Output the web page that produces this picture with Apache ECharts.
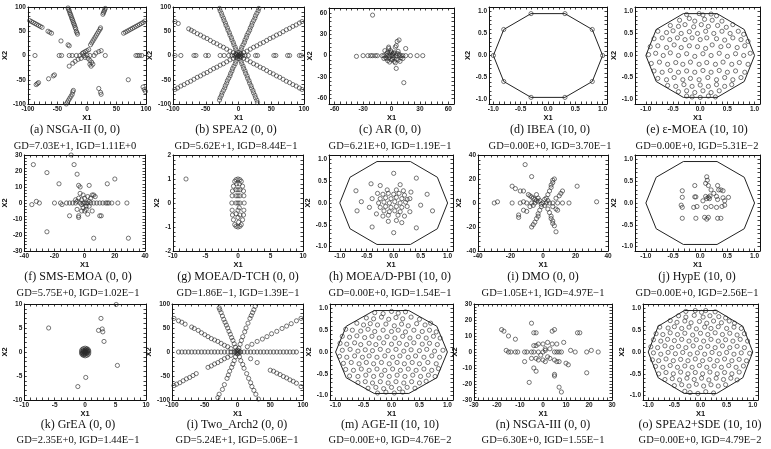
<!DOCTYPE html>
<html>
<head>
<meta charset="utf-8">
<script src="https://cdn.jsdelivr.net/npm/echarts@6/dist/echarts.min.js"></script>
<style>
  html, body { margin: 0; background: #fff; }
  #chart { width: 771px; height: 449px; }
</style>
</head>
<body>
<div id="chart"></div>
<script>
// ---- data ----
const ptsA = [[-97,72],[-94,70],[-91,68],[-88,66],[-85,64],[-82,62],[-79,60],[-76,58],[-66,50],[-63,48],[-60,46],[-44,30],[-32,22],[-30,20],
  [-32,98],[-31,95],[-30,92],[-29,88],[-28,85],[-27,82],[-26,78],[-25,75],[-24,72],[-23,68],[-22,65],[-21,62],[-20,58],[-19,55],[-18,50],[-17,47],[-16,44],
  [27,85],[28,88],[29,91],[30,94],[31,97],[6,22],[8,26],[10,30],[12,34],[14,38],[16,42],[18,46],[20,50],[22,54],[23,57],
  [62,46],[65,48],[68,50],[71,52],[74,54],[77,56],[80,58],[83,60],[86,62],[89,64],[92,66],[95,68],[98,71],
  [-88,0],[-47,0],[-43,0],[-30,0],[-25,0],[-18,0],[-12,0],[-5,0],[0,0],[5,0],[12,0],[31,0],[83,0],[86,0],[89,0],[93,0],
  [-8,4],[-6,6],[-3,8],[0,10],[3,12],[-10,-6],[-15,-8],[-20,-12],[-3,-4],[2,-6],[5,-10],[8,-14],[10,-18],[-30,-22],[-24,-16],[15,5],[20,8],[24,10],
  [-55,-40],[-57,-42],[-65,-48],[-82,-56],[-84,-58],[-86,-60],[-35,-100],[-33,-96],[-31,-92],[-29,-88],[-27,-84],[-25,-80],[-24,-75],[-23,-72],
  [20,-68],[23,-76],[24,-80],[70,-50],[95,-65],[97,-70],[99,-74],[5,-18],[7,-22]];
const ptsB = [[-97,-70],[-93,-67],[-88,-63],[-83,-60],[-78,-56],[-73,-53],[-68,-49],[-63,-45],[-58,-42],[-53,-38],[-48,-35],[-43,-31],[-38,-27],[-33,-24],[-28,-20],[-23,-17],[-18,-13],[-13,-9],[-8,-6],[-4,-3],
  [4,3],[8,6],[13,9],[18,13],[23,17],[28,20],[33,24],[38,27],[43,31],[48,35],[53,38],[58,42],[63,45],[68,49],[73,53],[78,56],[83,60],[88,63],[93,67],[97,70],
  [-97,70],[-92,66],[-76,55],[-72,52],[-68,49],[-63,45],[-58,42],[-53,38],[-48,35],[-43,31],[-38,27],[-33,24],[-28,20],[-23,17],[-18,13],[-13,9],[-8,6],[-4,3],
  [4,-3],[8,-6],[13,-9],[18,-13],[23,-17],[28,-20],[33,-24],[38,-27],[43,-31],[48,-35],[53,-38],[58,-42],[63,-45],[68,-49],[73,-53],[78,-56],[83,-60],[88,-63],[93,-67],[97,-70],
  [-29,97],[-28,92],[-26,87],[-25,82],[-23,77],[-22,72],[-20,67],[-19,62],[-17,57],[-16,52],[-14,47],[-13,42],[-11,37],[-10,32],[-8,27],[-7,22],[-5,17],[-4,12],[-2,7],
  [2,-7],[4,-12],[5,-17],[7,-22],[8,-27],[10,-32],[11,-37],[13,-42],[14,-47],[16,-52],[17,-57],[19,-62],[20,-67],[22,-72],[23,-77],[25,-82],[26,-87],[28,-92],[29,-97],
  [31,97],[30,92],[28,87],[26,82],[25,77],[23,72],[21,67],[20,62],[18,57],[17,52],[15,47],[13,42],[12,37],[10,32],[9,27],[7,22],[5,17],[4,12],[2,7],
  [-2,-7],[-4,-12],[-5,-17],[-7,-22],[-9,-27],[-10,-32],[-12,-37],[-13,-42],[-15,-47],[-17,-52],[-18,-57],[-20,-62],[-21,-67],[-23,-72],[-25,-77],[-26,-82],[-28,-87],[-29,-92],
  [-97,0],[-88,0],[-68,0],[-65,0],[-50,0],[-46,0],[-28,0],[-22,0],[-15,0],[-10,0],[-6,0],[0,0],[6,0],[10,0],[15,0],[26,0],[29,0],[54,0],[57,0],[75,0],[78,0],[93,0],[96,0],
  [-3,2],[2,-2],[3,3],[-2,-3],[1,1],[-1,-1],[3,-1],[-3,1]];
const ptsC = [[-20,57],[-37,-1],[-30,0],[-25,0],[-22,0],[-20,0],[-17,0],[-15,0],[-10,0],[-8,0],[-5,0],[-3,0],[0,0],[2,0],[5,0],[8,0],[10,0],[12,0],[15,0],[20,0],[27,0],[33,0],
  [-7,7],[-5,-4],[-3,10],[-3,12],[0,5],[2,3],[4,12],[5,14],[6,20],[8,22],[15,10],[-6,-3],[-4,-7],[-2,-9],[0,-6],[1,-5],[3,-8],[4,-10],[5,-5],[7,-6],[9,-8],
  [5,-18],[13,-38],[-5,3],[-2,4],[1,2],[3,4],[6,3],[8,2],[-8,-4],[-3,-3],[2,-3],[10,-3],[12,-4],[-1,7],[-4,5],[7,6]];
const ptsD = [[1,0],[0.81,0.59],[0.31,0.95],[-0.31,0.95],[-0.81,0.59],[-1,0],[-0.81,-0.59],[-0.31,-0.95],[0.31,-0.95],[0.81,-0.59]];
const ptsE = [[-0.25,0.93],[-0.02,0.95],[0.05,0.92],[0.2,0.94],[0.3,0.9],
  [-0.38,0.8],[-0.2,0.84],[-0.1,0.78],[0.08,0.82],[0.22,0.8],[0.4,0.78],
  [-0.55,0.68],[-0.4,0.66],[-0.28,0.7],[-0.12,0.65],[0.02,0.7],[0.15,0.66],[0.32,0.68],[0.48,0.64],[0.6,0.7],
  [-0.78,0.55],[-0.62,0.52],[-0.5,0.56],[-0.35,0.5],[-0.2,0.54],[-0.05,0.5],[0.1,0.55],[0.25,0.5],[0.4,0.55],[0.55,0.5],[0.7,0.55],[0.8,0.48],
  [-0.85,0.38],[-0.7,0.4],[-0.56,0.36],[-0.42,0.4],[-0.28,0.36],[-0.15,0.4],[0.0,0.36],[0.12,0.4],[0.3,0.38],[0.45,0.35],[0.6,0.4],[0.75,0.36],[0.88,0.32],
  [-0.92,0.2],[-0.78,0.22],[-0.62,0.18],[-0.48,0.24],[-0.35,0.18],[-0.2,0.22],[-0.05,0.2],[0.1,0.16],[0.22,0.24],[0.38,0.2],[0.52,0.22],[0.68,0.18],[0.82,0.22],
  [-0.95,0.02],[-0.82,0.05],[-0.68,0.0],[-0.55,0.06],[-0.4,0.0],[-0.25,0.04],[-0.1,-0.02],[0.05,0.04],[0.2,0.0],[0.35,0.05],[0.5,-0.02],[0.65,0.04],[0.8,0.0],[0.92,0.05],
  [-0.9,-0.18],[-0.75,-0.15],[-0.6,-0.2],[-0.45,-0.16],[-0.32,-0.2],[-0.18,-0.15],[-0.02,-0.2],[0.12,-0.16],[0.28,-0.2],[0.42,-0.15],[0.58,-0.2],[0.72,-0.16],[0.88,-0.2],
  [-0.85,-0.35],[-0.7,-0.38],[-0.55,-0.34],[-0.4,-0.38],[-0.25,-0.35],[-0.1,-0.38],[0.05,-0.34],[0.2,-0.38],[0.35,-0.34],[0.5,-0.38],[0.65,-0.35],[0.82,-0.38],
  [-0.78,-0.52],[-0.62,-0.55],[-0.48,-0.5],[-0.32,-0.55],[-0.18,-0.52],[-0.02,-0.55],[0.14,-0.5],[0.3,-0.55],[0.45,-0.5],[0.6,-0.55],[0.75,-0.5],
  [-0.6,-0.68],[-0.45,-0.7],[-0.3,-0.66],[-0.15,-0.7],[0.0,-0.67],[0.15,-0.7],[0.3,-0.66],[0.45,-0.7],[0.58,-0.66],
  [-0.4,-0.82],[-0.25,-0.8],[-0.1,-0.84],[0.05,-0.8],[0.2,-0.84],[0.35,-0.8],
  [-0.25,-0.92],[-0.15,-0.94],[0.0,-0.95],[0.15,-0.92],[0.28,-0.94]];
const ptsF = [[-34,24],[-25,19],[-17,12],[-9,30],[-7,24],[-5,18],[-4,11],[-3,10],[3,11],[20,15],[15,12],[-35,-1],[-32,1],[-30,0],[-20,0],[-16,0],[-15,-1],[-12,0],[-10,0],[-8,0],[-6,0],[-5,1],[-3,0],[-1,0],[0,0],[1,0],[2,0],[4,0],[6,0],[8,0],[10,0],[12,0],[14,0],[15,0],[16,0],[18,0],[22,0],[28,0],
  [-3,6],[-1,5],[0,3],[2,4],[4,3],[-2,2],[5,5],[6,5],[7,4],[-4,3],[-1,-3],[1,-2],[3,-2],[-2,-5],[0,-5],[2,-7],[-10,-8],[-4,-8],[-4,-9],[5,-5],[10,-8],[11,-8],[-25,-18],[6,-22],[29,-22],[-5,-4],[1,-4],[-6,2],[3,1],[-2,-1]];
const ptsG = [[-8,1],[0,1],[-0.3,0.97],[0.3,0.97],[-0.5,0.9],[0.5,0.9],[-0.7,0.7],[0.7,0.7],[-0.85,0.5],[0.85,0.5],[-0.9,0.3],[0.9,0.3],[-0.95,0],[0.95,0],[-0.9,-0.3],[0.9,-0.3],[-0.85,-0.5],[0.85,-0.5],[-0.7,-0.7],[0.7,-0.7],[-0.5,-0.9],[0.5,-0.9],[-0.3,-0.97],[0.3,-0.97],[0,-1],
  [-0.3,0.55],[0,0.55],[0.3,0.55],[-0.3,0.3],[0,0.3],[0.3,0.3],[0,0],[0.3,0],[-0.3,0],[0.2,-0.2],[0,-0.3],[-0.3,-0.45],[0.3,-0.5],[0,-0.6],[-0.2,0.8],[0.2,0.8],[0.1,-0.8]];
const ptsH = [[0,0.68],[-0.42,0.44],[-0.25,0.4],[0.12,0.42],[0.42,0.57],[-0.7,0.28],[0.32,0.25],[0.62,0.2],[-0.6,0.03],[-0.4,0.1],[-0.68,-0.18],[-0.45,-0.1],[0.5,-0.05],[0.72,-0.18],[-0.32,-0.25],[-0.4,-0.55],[-0.1,-0.42],[0.05,-0.4],[0.2,-0.3],[0.3,-0.2],[0.42,-0.57],[0,-0.68],[-0.2,-0.3],[0.15,-0.45],
  [-0.2,0.2],[-0.1,0.22],[0.0,0.2],[0.1,0.22],[0.2,0.18],[-0.25,0.1],[-0.15,0.12],[-0.05,0.1],[0.05,0.13],[0.15,0.1],[0.25,0.08],[-0.28,0.0],[-0.18,0.02],[-0.08,0.0],[0.02,0.03],[0.12,0.0],[0.22,0.02],
  [-0.25,-0.1],[-0.15,-0.08],[-0.05,-0.1],[0.05,-0.08],[0.15,-0.1],[0.25,-0.08],[-0.18,-0.18],[-0.08,-0.2],[0.02,-0.18],[0.12,-0.2],[-0.12,0.3],[0.05,0.3],[0.18,0.28],[-0.3,0.22],[0.3,0.1],[-0.1,-0.28],[0.08,-0.28]];
const ptsI = [[-11,32],[-7,22],[-19,14],[-17,12],[-14,10],[-12,10],[-30,0],[-28,1],[-19,0],[-14,0],[-12,1],[-10,0],[-7,0],[-5,0],[-3,1],[0,0],[2,0],[4,0],[6,0],[9,0],[12,0],[16,0],[21,14],[33,1],[12,10],[11,8],[10,6],[8,4],
  [-15,-12],[-15,-10],[-12,-6],[-10,-7],[-8,-3],[-6,-2],[2,4],[3,7],[4,10],[5,13],[5,15],[6,17],[6,19],[7,20],[-9,7],[-8,6],[-7,5],[-6,4],[-5,3],[-4,2],
  [-1,-3],[-2,-6],[-3,-9],[-3,-11],[-4,-13],[-5,-16],[-6,-18],[-7,-20],[3,-5],[4,-8],[5,-11],[5,-13],[6,-15],[6,-17],[7,-19],[8,-24],[6,-3],[8,-5],[9,-6],[-2,2],[1,3],[3,2],[-1,-1],[1,-2],[-3,4],[-4,7]];
const ptsJ = [[-0.33,0.28],[-0.33,0.13],[-0.35,-0.05],[-0.33,-0.1],[-0.33,-0.35],[-0.1,0.4],[-0.1,0.14],[-0.08,0.14],[-0.12,-0.1],[-0.06,-0.08],[-0.08,-0.35],[0.1,0.45],[0.12,0.6],[0.13,0.52],[0.15,0.4],[0.1,0.15],[0.12,0.1],[0.15,0.13],[0.18,0.16],[0.17,0.1],[0.1,-0.1],[0.2,-0.08],[0.08,-0.33],[0.12,-0.37],[0.15,-0.33],
  [0.32,0.4],[0.34,0.3],[0.38,0.3],[0.42,0.28],[0.3,0.15],[0.32,0.08],[0.42,0.12],[0.52,0.13],[0.45,0.05],[0.3,-0.1],[0.4,-0.08],[0.45,-0.05],[0.32,-0.35],[0.38,-0.35],[0.2,0.3],[0.25,0.22],[0.05,0.05]];
const ptsK = [[-0.6,0.2],[-0.5,0.5],[-0.3,0.7],[0,0.8],[0.3,0.7],[0.5,0.5],[0.6,0.2],[0.6,-0.2],[0.5,-0.5],[0.3,-0.7],[0,-0.8],[-0.3,-0.7],[-0.5,-0.5],[-0.6,-0.2],[-0.3,0.3],[0,0.4],[0.3,0.3],[-0.3,-0.3],[0,-0.4],[0.3,-0.3],[0,0],[-0.4,0],[0.4,0],[-0.2,0.1],[0.2,-0.1],[0.1,0.2],[-0.1,-0.2],[0.45,0.25],[-0.45,-0.25],[0.2,0.55],[-0.2,-0.55],
  [-6,5],[2.6,7],[2.2,4.5],[2.8,4.8],[2.9,4.2],[3.1,2.2],[5.3,-2.8],[0.1,-5.3],[-1.2,-7.2],[5.1,9.9]];
const ptsL = [[-97,70],[-90,65],[-85,62],[-80,58],[-70,52],[-66,49],[-60,45],[-55,40],[-50,36],[-45,32],[-40,28],[-35,25],[-30,22],[-25,18],[-20,14],[-15,11],[-10,7],
  [20,-14],[30,-22],[50,-38],[55,-40],[60,-44],[65,-47],[70,-51],[75,-54],[80,-58],[85,-61],[90,-65],[97,-72],
  [15,11],[22,16],[30,22],[38,27],[45,32],[52,38],[60,43],[68,49],[75,54],[82,59],[90,65],[97,70],
  [-97,-70],[-93,-67],[-88,-64],[-83,-60],[-78,-56],[-73,-53],[-68,-49],[-63,-45],[-45,-32],[-40,-29],[-35,-25],[-30,-22],[-25,-18],[-20,-14],[-15,-11],[-10,-7],
  [-28,92],[-27,88],[-25,82],[-23,75],[-21,68],[-19,62],[-17,56],[-15,50],[-13,43],[-11,37],[-9,30],[-7,24],[-5,17],[-3,10],
  [27,95],[25,88],[23,82],[21,76],[19,70],[16,60],[13,50],[11,42],[8,32],[6,24],[4,16],[2,8],
  [-3,-10],[-5,-18],[-7,-25],[-9,-32],[-12,-40],[-14,-48],[-16,-55],[-20,-68],[-23,-78],[-28,-88],[-30,-95],
  [3,-10],[5,-18],[8,-26],[10,-34],[14,-45],[17,-55],[20,-64],[22,-72],[25,-80],[28,-88],[32,-98],
  [-90,0],[-85,0],[-80,0],[-75,0],[-70,0],[-65,0],[-60,0],[-55,0],[-50,0],[-45,0],[-40,0],[-35,0],[-30,0],[-25,0],[-20,0],[-15,0],[-10,0],[-5,0],[0,0],[5,0],[10,0],[15,0],[20,0],[25,0],[30,0],[35,0],[40,0],[45,0],[50,0],[55,0],[60,0],[65,0],[70,0],[75,0],[80,0],[85,0],[90,0],
  [-2,2],[2,2],[-2,-2],[2,-2],[0,4],[0,-4],[4,0],[-4,0]];
const ptsM = [[-0.3,0.9],[-0.15,0.88],[0.0,0.93],[0.12,0.89],[0.25,0.92],
  [-0.45,0.78],[-0.32,0.76],[-0.18,0.8],[-0.05,0.75],[0.08,0.79],[0.2,0.76],[0.35,0.8],[0.5,0.75],
  [-0.62,0.66],[-0.5,0.62],[-0.38,0.65],[-0.25,0.62],[-0.1,0.64],[0.05,0.6],[0.18,0.64],[0.3,0.6],[0.45,0.65],[0.6,0.62],[0.7,0.66],
  [-0.82,0.52],[-0.7,0.5],[-0.55,0.48],[-0.42,0.52],[-0.3,0.47],[-0.15,0.5],[0.0,0.47],[0.12,0.5],[0.25,0.46],[0.4,0.5],[0.55,0.47],[0.68,0.5],[0.8,0.46],
  [-0.88,0.36],[-0.75,0.34],[-0.62,0.37],[-0.48,0.33],[-0.35,0.36],[-0.22,0.32],[-0.08,0.35],[0.06,0.32],[0.2,0.36],[0.33,0.32],[0.48,0.35],[0.62,0.32],[0.75,0.36],[0.87,0.32],
  [-0.92,0.2],[-0.8,0.18],[-0.66,0.21],[-0.55,0.17],[-0.4,0.2],[-0.28,0.17],[-0.14,0.21],[0.0,0.18],[0.14,0.2],[0.27,0.17],[0.4,0.21],[0.55,0.18],[0.68,0.2],[0.82,0.17],
  [-0.88,0.04],[-0.74,0.06],[-0.6,0.02],[-0.47,0.05],[-0.34,0.03],[-0.2,0.06],[-0.06,0.03],[0.08,0.06],[0.22,0.02],[0.35,0.05],[0.5,0.03],[0.63,0.06],[0.77,0.02],[0.92,0.04],
  [-0.93,-0.1],[-0.8,-0.12],[-0.66,-0.09],[-0.52,-0.12],[-0.4,-0.09],[-0.26,-0.12],[-0.12,-0.09],[0.02,-0.12],[0.15,-0.09],[0.3,-0.12],[0.43,-0.09],[0.58,-0.12],[0.72,-0.09],[0.86,-0.12],
  [-0.86,-0.26],[-0.72,-0.24],[-0.58,-0.27],[-0.45,-0.24],[-0.32,-0.27],[-0.18,-0.24],[-0.04,-0.27],[0.1,-0.24],[0.23,-0.27],[0.37,-0.24],[0.5,-0.27],[0.65,-0.24],[0.8,-0.27],
  [-0.82,-0.4],[-0.68,-0.42],[-0.54,-0.39],[-0.4,-0.42],[-0.26,-0.39],[-0.12,-0.42],[0.02,-0.39],[0.16,-0.42],[0.3,-0.39],[0.44,-0.42],[0.58,-0.39],[0.72,-0.42],[0.84,-0.38],
  [-0.75,-0.55],[-0.6,-0.56],[-0.46,-0.53],[-0.32,-0.56],[-0.18,-0.53],[-0.04,-0.56],[0.1,-0.53],[0.24,-0.56],[0.38,-0.53],[0.52,-0.56],[0.66,-0.53],[0.78,-0.56],
  [-0.6,-0.7],[-0.47,-0.68],[-0.34,-0.71],[-0.2,-0.68],[-0.06,-0.71],[0.08,-0.68],[0.22,-0.71],[0.36,-0.68],[0.5,-0.71],[0.62,-0.67],
  [-0.42,-0.83],[-0.28,-0.81],[-0.14,-0.84],[0.0,-0.81],[0.14,-0.84],[0.28,-0.81],[0.42,-0.83],
  [-0.25,-0.94],[-0.1,-0.92],[0.05,-0.94],[0.2,-0.92]];
const ptsN = [[-18,14],[-17,13],[-15,10],[-12,8],[-5,18],[-4,12],[-3,12],[4,13],[5,14],[15,12],[16,12],[-16,1],[-15,0],[-14,0],[-12,0],[-11,0],[-8,0],[-7,0],[-5,0],[-4,0],[-2,0],[0,0],[1,1],[5,0],[6,0],[7,0],[8,0],[12,1],[14,0],[19,0],[21,1],[24,0],
  [-4,4],[-3,4],[-2,5],[0,5],[2,6],[4,5],[6,5],[9,6],[-5,-4],[-3,-4],[-2,-5],[0,-5],[1,-6],[3,-4],[5,-5],[6,-6],[10,-7],[11,-8],[-4,-10],[-3,-12],[-6,-19],[5,-14],[5,-15],[7,-22],[8,-25],[19,-13],[2,-3],[-1,-2],[1,2],[3,2],[-8,-6],[7,-6]];
const ptsO = [[-0.28,0.93],[-0.1,0.95],[0.02,0.91],[0.1,0.95],[0.28,0.92],
  [-0.42,0.83],[-0.28,0.8],[-0.12,0.84],[0.05,0.8],[0.18,0.83],[0.35,0.81],[0.48,0.78],
  [-0.58,0.72],[-0.45,0.68],[-0.3,0.71],[-0.18,0.67],[-0.02,0.7],[0.12,0.66],[0.25,0.71],[0.4,0.67],[0.55,0.71],[0.65,0.66],
  [-0.78,0.57],[-0.62,0.55],[-0.5,0.58],[-0.36,0.54],[-0.22,0.57],[-0.08,0.53],[0.08,0.57],[0.2,0.54],[0.34,0.58],[0.5,0.54],[0.64,0.57],[0.78,0.54],
  [-0.85,0.42],[-0.72,0.4],[-0.58,0.44],[-0.44,0.4],[-0.3,0.43],[-0.15,0.39],[0.0,0.43],[0.14,0.4],[0.28,0.44],[0.42,0.4],[0.56,0.43],[0.7,0.39],[0.84,0.42],
  [-0.9,0.28],[-0.76,0.25],[-0.63,0.29],[-0.5,0.26],[-0.36,0.29],[-0.22,0.25],[-0.08,0.28],[0.06,0.25],[0.2,0.29],[0.34,0.25],[0.48,0.28],[0.62,0.25],[0.76,0.29],[0.9,0.25],
  [-0.95,0.12],[-0.82,0.1],[-0.68,0.14],[-0.55,0.1],[-0.42,0.13],[-0.28,0.1],[-0.14,0.14],[0.0,0.1],[0.14,0.13],[0.28,0.1],[0.42,0.14],[0.56,0.1],[0.7,0.13],[0.84,0.1],
  [-0.9,-0.02],[-0.76,-0.05],[-0.62,-0.01],[-0.48,-0.04],[-0.34,-0.01],[-0.2,-0.05],[-0.06,-0.02],[0.08,-0.05],[0.22,-0.01],[0.36,-0.04],[0.5,-0.01],[0.64,-0.05],[0.78,-0.02],[0.94,-0.03],
  [-0.92,-0.18],[-0.8,-0.2],[-0.66,-0.16],[-0.52,-0.2],[-0.38,-0.17],[-0.24,-0.2],[-0.1,-0.16],[0.04,-0.2],[0.18,-0.17],[0.32,-0.2],[0.46,-0.16],[0.6,-0.2],[0.74,-0.17],[0.88,-0.2],
  [-0.86,-0.33],[-0.72,-0.35],[-0.58,-0.31],[-0.44,-0.35],[-0.3,-0.32],[-0.16,-0.35],[-0.02,-0.31],[0.12,-0.35],[0.26,-0.32],[0.4,-0.35],[0.54,-0.31],[0.68,-0.35],[0.82,-0.32],
  [-0.8,-0.5],[-0.66,-0.47],[-0.52,-0.5],[-0.38,-0.46],[-0.24,-0.5],[-0.1,-0.47],[0.04,-0.5],[0.18,-0.46],[0.32,-0.5],[0.46,-0.47],[0.6,-0.5],[0.74,-0.46],
  [-0.68,-0.63],[-0.54,-0.61],[-0.4,-0.64],[-0.26,-0.6],[-0.12,-0.63],[0.02,-0.6],[0.16,-0.64],[0.3,-0.6],[0.44,-0.63],[0.58,-0.6],[0.7,-0.64],
  [-0.5,-0.77],[-0.36,-0.75],[-0.22,-0.78],[-0.08,-0.74],[0.06,-0.78],[0.2,-0.75],[0.34,-0.78],[0.48,-0.75],
  [-0.3,-0.9],[-0.2,-0.93],[-0.05,-0.95],[0.1,-0.91],[0.25,-0.94]];

// true Pareto region outline (regular decagon)
const decagon = [[1,0],[0.81,0.59],[0.31,0.95],[-0.31,0.95],[-0.81,0.59],[-1,0],[-0.81,-0.59],[-0.31,-0.95],[0.31,-0.95],[0.81,-0.59],[1,0]];

const points = [ptsA, ptsB, ptsC, ptsD, ptsE, ptsF, ptsG, ptsH, ptsI, ptsJ, ptsK, ptsL, ptsM, ptsN, ptsO];
const withDecagon = [false, false, false, true, true, false, false, true, false, true, false, false, true, false, true];

const captions = ['(a) NSGA-II (0, 0)', '(b) SPEA2 (0, 0)', '(c) AR (0, 0)', '(d) IBEA (10, 0)', '(e) \u03b5-MOEA (10, 10)',
  '(f) SMS-EMOA (0, 0)', '(g) MOEA/D-TCH (0, 0)', '(h) MOEA/D-PBI (10, 0)', '(i) DMO (0, 0)', '(j) HypE (10, 0)',
  '(k) GrEA (0, 0)', '(i) Two_Arch2 (0, 0)', '(m) AGE-II (10, 10)', '(n) NSGA-III (0, 0)', '(o) SPEA2+SDE (10, 10)'];
const scores = ['GD=7.03E+1, IGD=1.11E+0', 'GD=5.62E+1, IGD=8.44E\u22121', 'GD=6.21E+0, IGD=1.19E\u22121', 'GD=0.00E+0, IGD=3.70E\u22121', 'GD=0.00E+0, IGD=5.31E\u22122',
  'GD=5.75E+0, IGD=1.02E\u22121', 'GD=1.86E\u22121, IGD=1.39E\u22121', 'GD=0.00E+0, IGD=1.54E\u22121', 'GD=1.05E+1, IGD=4.97E\u22121', 'GD=0.00E+0, IGD=2.56E\u22121',
  'GD=2.35E+0, IGD=1.44E\u22121', 'GD=5.24E+1, IGD=5.06E\u22121', 'GD=0.00E+0, IGD=4.76E\u22122', 'GD=6.30E+0, IGD=1.55E\u22121', 'GD=0.00E+0, IGD=4.79E\u22122'];

const xRange = [[-100,100],[-100,100],[-66,66],[-1.08,1.08],[-1.2,1.1],
  [-40,40],[-10,10],[-1.2,1.1],[-40,40],[-1.2,1.1],
  [-10,10],[-100,100],[-1.1,1.1],[-30,30],[-1.1,1.1]];
const yRange = [[-100,100],[-100,100],[-68,67],[-1.1,1.1],[-1.1,1.1],
  [-30,30],[-2,2],[-1.1,1.1],[-40,40],[-1.1,1.1],
  [-10,10],[-100,100],[-1.1,1.1],[-30,30],[-1.1,1.1]];
const t100 = [-100,-50,0,50,100], t60 = [-60,-30,0,30,60], t1 = [-1,-0.5,0,0.5,1];
const xTicks = [t100, t100, t60, t1, t1, [-40,-20,0,20,40], [-10,-5,0,5,10], t1, [-40,-20,0,20,40], t1,
  [-10,-5,0,5,10], t100, t1, [-30,-20,-10,0,10,20,30], t1];
const yTicks = [t100, t100, t60, t1, t1, [-30,-20,-10,0,10,20,30], [-2,-1,0,1,2], t1, [-40,-20,0,20,40], t1,
  [-10,-5,0,5,10], t100, t1, [-30,-20,-10,0,10,20,30], t1];

// ---- layout: plot frames [left, top, width, height] in px ----
const frames = [
  [14,7,132,97],[173,7,131,97],[329,8,125,96],[489,7,118,97],[635,7,125,97],
  [13,155,132,96],[173,155,130,96],[329,155,124,96],[478,155,130,96],[635,155,125,96],
  [10,304,136,96],[172,304,131,96],[330,304,123,96],[474,304,138,96],[643,304,115,96]];
const yNameGap = [7,9,10,7,6, 5,6,10,6,6, 2,10,9,6,6];
const capX = [75,236,390,550,697, 78,238,390,543,697, 78,237,390,543,700];
const capY = [130,277,425];
const scoreY = [146,293,440];

const chart = echarts.init(document.getElementById('chart'));

function minorTicks(t) {
  const out = [];
  for (let k = 0; k < t.length - 1; k++) {
    const step = (t[k + 1] - t[k]) / 5;
    for (let j = 0; j < 5; j++) out.push(+(t[k] + j * step).toFixed(4));
  }
  out.push(t[t.length - 1]);
  return out;
}

function fmt(ticks) {
  const dec = ticks.some(v => Math.round(v) !== v);
  return v => dec ? v.toFixed(1) : String(v);
}

function axis(i, pos, range, ticks, labels, name, gap) {
  return {
    type: 'value', gridIndex: i, position: pos,
    min: range[0], max: range[1],
    axisLine: {show: true, onZero: false, lineStyle: {color: '#111', width: 1}},
    axisTick: {show: true, inside: true, length: 2.5, customValues: minorTicks(ticks), lineStyle: {color: '#111', width: 0.8}},
    axisLabel: {show: labels, customValues: ticks, formatter: fmt(ticks), margin: 2,
      fontSize: 6.5, fontWeight: 'bold', color: '#222', fontFamily: 'Liberation Sans'},
    splitLine: {show: false},
    name: labels ? name : '', nameLocation: 'middle', nameGap: gap,
    nameTextStyle: {fontSize: 7.5, fontWeight: 'bold', color: '#111', fontFamily: 'Liberation Sans'}
  };
}

const grid = [], xAxis = [], yAxis = [], series = [], graphic = [];
frames.forEach((f, i) => {
  grid.push({left: f[0], top: f[1], width: f[2], height: f[3], show: false});
  xAxis.push(axis(i, 'bottom', xRange[i], xTicks[i], true, 'X1', 8));
  xAxis.push(axis(i, 'top', xRange[i], xTicks[i], false, '', 0));
  yAxis.push(axis(i, 'left', yRange[i], yTicks[i], true, 'X2', yNameGap[i]));
  yAxis.push(axis(i, 'right', yRange[i], yTicks[i], false, '', 0));
  if (withDecagon[i]) {
    series.push({
      type: 'line', xAxisIndex: 2 * i, yAxisIndex: 2 * i, data: decagon,
      symbol: 'none', silent: true, animation: false,
      lineStyle: {color: '#222', width: 1}
    });
  }
  series.push({
    type: 'scatter', xAxisIndex: 2 * i, yAxisIndex: 2 * i, data: points[i],
    symbol: 'circle', symbolSize: 4.2, animation: false,
    itemStyle: {color: 'rgba(255,255,255,0)', borderColor: '#2a2a2a', borderWidth: 0.8}
  });
  const row = Math.floor(i / 5);
  graphic.push({type: 'text', x: capX[i], y: capY[row],
    style: {text: captions[i], textAlign: 'center', textVerticalAlign: 'middle',
      font: '12px "Liberation Serif"', fill: '#111'}});
  graphic.push({type: 'text', x: capX[i], y: scoreY[row],
    style: {text: scores[i], textAlign: 'center', textVerticalAlign: 'middle',
      font: '10.5px "Liberation Serif"', fill: '#111'}});
});

chart.setOption({
  animation: false,
  backgroundColor: '#fff',
  grid, xAxis, yAxis, series, graphic
});
</script>
</body>
</html>
